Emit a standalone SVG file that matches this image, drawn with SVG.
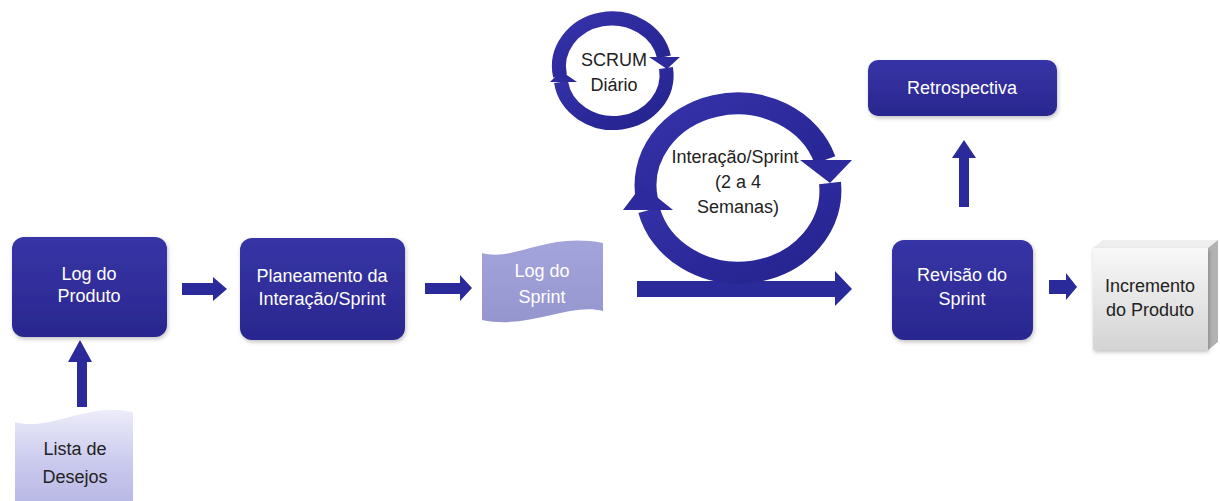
<svg xmlns="http://www.w3.org/2000/svg" width="1220" height="501" viewBox="0 0 1220 501">
<defs>
<linearGradient id="boxg" x1="0" y1="0" x2="0" y2="1">
<stop offset="0" stop-color="#3734a6"/><stop offset="1" stop-color="#2a278f"/>
</linearGradient>
<linearGradient id="ringg" x1="0" y1="0" x2="1" y2="1">
<stop offset="0" stop-color="#3533a8"/><stop offset="0.5" stop-color="#2c2a9c"/><stop offset="1" stop-color="#25238d"/>
</linearGradient>
<linearGradient id="sprintg" x1="0" y1="0" x2="0" y2="1">
<stop offset="0" stop-color="#a4a4dc"/><stop offset="1" stop-color="#9696cf"/>
</linearGradient>
<linearGradient id="listag" x1="0" y1="0" x2="0" y2="1">
<stop offset="0" stop-color="#ececfa"/><stop offset="0.6" stop-color="#c9c9ee"/><stop offset="1" stop-color="#b9b9e6"/>
</linearGradient>
<linearGradient id="cubef" x1="0" y1="0" x2="0" y2="1">
<stop offset="0" stop-color="#f8f8f8"/><stop offset="1" stop-color="#d4d4d4"/>
</linearGradient>
<filter id="sh" x="-10%" y="-10%" width="130%" height="130%">
<feDropShadow dx="1" dy="2" stdDeviation="2" flood-color="#000" flood-opacity="0.25"/>
</filter>
</defs>
<style>
.box{fill:url(#boxg);filter:url(#sh)}
.arr{fill:#2b2a9a}
.ring{fill:none;stroke:url(#ringg)}
.ringhead{fill:#2c2a9c}
.wt{font-family:"Liberation Sans",Arial,sans-serif;font-size:18px;fill:#ffffff;text-anchor:middle}
.dt{font-family:"Liberation Sans",Arial,sans-serif;font-size:18px;fill:#222222;text-anchor:middle}
</style>

<g id="connectors">
<polygon class="arr" points="182,283 213,283 213,277 227,289 213,301 213,295 182,295"/>
<polygon class="arr" points="425,283 460,283 460,275 472,288 460,301 460,294 425,294"/>
<polygon class="arr" points="637,281 835,281 835,271 852,289 835,306 835,297 637,297"/>
<polygon class="arr" points="959,207 959,158 952,158 964,140 976,158 969,158 969,207"/>
<polygon class="arr" points="1049,280 1066,280 1066,273 1077,287 1066,300 1066,294 1049,294"/>
<polygon class="arr" points="77,407 77,362 68,362 80,340 92,362 87,362 87,407"/>
</g>

<g id="scrum-diario">
<path class="ring" stroke-width="14" d="M 560 76 A 53 48 0 0 1 664 57"/>
<polygon class="ringhead" points="649,57 680,57 667,69"/>
<path class="ring" stroke-width="14" d="M 666 68 A 53 48 0 0 1 561 82"/>
<polygon class="ringhead" points="550,82 577,82 561,71"/>
<text class="dt" x="614" y="66" font-size="16">SCRUM</text>
<text class="dt" x="614" y="91" font-size="16">Diário</text>
</g>

<g id="sprint-cycle">
<path class="ring" stroke-width="22" d="M 647 200 A 92 82 0 0 1 825 160"/>
<polygon class="ringhead" points="800,160 852,160 830,183"/>
<path class="ring" stroke-width="22" d="M 830 183 A 92 82 0 0 1 649 210"/>
<polygon class="ringhead" points="623,210 673,210 642,185"/>
<text class="dt" x="735" y="163">Interação/Sprint</text>
<text class="dt" x="738" y="188">(2 a 4</text>
<text class="dt" x="738" y="213">Semanas)</text>
</g>

<g id="log-produto">
<rect class="box" x="12" y="237" width="155" height="100" rx="12"/>
<text class="wt" x="89" y="280">Log do</text>
<text class="wt" x="89" y="302">Produto</text>
</g>

<g id="planeamento">
<rect class="box" x="240" y="238" width="165" height="102" rx="12"/>
<text class="wt" x="322" y="282">Planeamento da</text>
<text class="wt" x="322" y="305">Interação/Sprint</text>
</g>

<g id="log-sprint">
<path fill="url(#sprintg)" d="M482,253 C515,262 545,232 603,243 L603,311 C570,302 528,330 482,320 Z"/>
<text class="wt" x="542" y="277">Log do</text>
<text class="wt" x="542" y="303">Sprint</text>
</g>

<g id="lista-desejos">
<path fill="url(#listag)" d="M15,422 C50,432 85,402 133,412 L133,501 L15,501 Z"/>
<text class="dt" x="75" y="455">Lista de</text>
<text class="dt" x="75" y="483">Desejos</text>
</g>

<g id="retrospectiva">
<rect class="box" x="868" y="60" width="189" height="56" rx="10"/>
<text class="wt" x="962" y="94" font-size="17">Retrospectiva</text>
</g>

<g id="revisao">
<rect class="box" x="892" y="240" width="141" height="100" rx="12"/>
<text class="wt" x="962" y="281">Revisão do</text>
<text class="wt" x="962" y="305">Sprint</text>
</g>

<g id="incremento">
<polygon fill="#efefef" points="1093,248 1103,240 1218,240 1208,248"/>
<polygon fill="#b2b2b2" points="1208,248 1218,240 1218,342 1208,350"/>
<rect x="1093" y="248" width="115" height="102" fill="url(#cubef)" filter="url(#sh)"/>
<text class="dt" x="1150" y="292" fill="#333">Incremento</text>
<text class="dt" x="1150" y="316" fill="#333">do Produto</text>
</g>
</svg>
